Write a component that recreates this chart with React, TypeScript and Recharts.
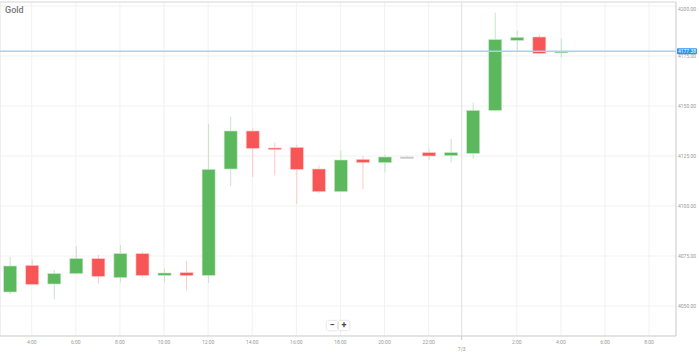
import React from 'react';
import { ComposedChart, Bar, XAxis, YAxis, CartesianGrid, ReferenceLine } from 'recharts';

// hourly candles, 3:00 (day 1) .. 4:00 (day 2 = 28)
const hours = [3, 4, 5, 6, 7, 8, 9, 10, 11, 12, 13, 14, 15, 16, 17, 18, 19, 20, 21, 22, 23, 24, 25, 26, 27, 28];
const opens = [4057, 4070.3, 4061, 4066.2, 4073.7, 4064.2, 4076.2, 4065.3, 4066.7, 4065.3, 4118.5, 4137.5, 4129, 4129.3, 4118.5, 4107.2, 4123.3, 4121.7, 4124.5, 4126.7, 4125.2, 4126.3, 4147.8, 4182.8, 4184.5, 4176.6];
const highs = [4074.6, 4073.3, 4068, 4080, 4075.7, 4080.5, 4077.2, 4068.8, 4072.5, 4141, 4144.7, 4138.8, 4131.8, 4130.7, 4120.2, 4127.7, 4125, 4125.8, 4125, 4128.7, 4133.5, 4151.7, 4196.7, 4187.7, 4185.7, 4183.7];
const lows = [4056, 4060.5, 4053.3, 4066, 4061.2, 4061.7, 4064.2, 4061.8, 4057.7, 4061.5, 4110, 4114.5, 4115.3, 4101, 4106.3, 4107, 4108.5, 4116.8, 4124, 4123, 4121.7, 4123.7, 4147.5, 4177.2, 4176, 4174.2];
const closes = [4070, 4060.8, 4066.2, 4073.7, 4064.8, 4076.2, 4065.3, 4066.5, 4065.2, 4118.3, 4137.5, 4128.8, 4128.8, 4118.3, 4107.2, 4123, 4121.7, 4124.5, 4124.5, 4125, 4126.7, 4147.8, 4183.2, 4184.3, 4176.3, 4177.38];

const xTicks = [4, 6, 8, 10, 12, 14, 16, 18, 20, 22, 23.5, 26, 28, 30, 32];
const yTicks = [4050, 4075, 4100, 4125, 4150, 4175, 4200];
const lastPrice = 4177.38;
const dayLabel = '7/3';

const data = hours.map((t, i) => ({
  t,
  open: opens[i],
  high: highs[i],
  low: lows[i],
  close: closes[i],
  range: [lows[i], highs[i]],
}));

const GREEN = '#5cb85c';
const RED = '#f85656';
const FONT = 'Roboto, sans-serif';

const Candle = (props: any) => {
  const { x, y, width, height, payload } = props;
  const { open, close, high, low } = payload;
  const span = high - low || 1;
  const toY = (v: number) => y + ((high - v) / span) * height;
  const cx = x + width / 2;
  const up = close > open;
  const flat = close === open;
  const body = flat ? '#c4c4c4' : up ? GREEN : RED;
  const wick = flat ? '#d8d8d8' : up ? '#c6e6c6' : '#ffc8c8';
  const yTop = toY(Math.max(open, close));
  const yBot = toY(Math.min(open, close));
  const h = Math.max(yBot - yTop, 1.6);
  const bw = 13;
  return (
    <g>
      <line x1={cx} x2={cx} y1={y} y2={y + height} stroke={wick} strokeWidth={1} />
      <rect x={cx - bw / 2} y={yTop} width={bw} height={h} fill={body} stroke={wick} strokeWidth={0.6} />
    </g>
  );
};

const XTick = (props: any) => {
  const { x, y, payload } = props;
  const isDay = payload.value === 23.5;
  const label = isDay ? dayLabel : `${payload.value % 24}:00`;
  return (
    <g>
      {isDay && <line x1={x} x2={x} y1={y} y2={y + 4} stroke="#ccc" />}
      <text x={x} y={y + (isDay ? 15 : 8)} textAnchor="middle" fontSize={5} fill="#999" fontFamily={FONT}>
        {label}
      </text>
    </g>
  );
};

const YTick = (props: any) => {
  const { x, y, payload } = props;
  return (
    <text x={x} y={y + 1.8} textAnchor="start" fontSize={5} fill="#999" fontFamily={FONT}>
      {payload.value.toFixed(2)}
    </text>
  );
};

const PriceTag = (props: any) => {
  const vb = props.viewBox || {};
  const bx = vb.x + vb.width + 1;
  return (
    <g>
      <rect x={bx} y={vb.y - 3} width={20} height={6} rx={1} fill="#2b95ee" />
      <text x={bx + 10} y={vb.y + 1.8} textAnchor="middle" fontSize={5} fill="#fff" fontFamily={FONT}>
        {lastPrice.toFixed(2)}
      </text>
    </g>
  );
};

const zoomBtn: React.CSSProperties = {
  width: 10,
  height: 9,
  background: '#fff',
  boxShadow: '0 0 2px rgba(0,0,0,0.25)',
  fontSize: 9,
  lineHeight: '9px',
  textAlign: 'center',
  color: '#444',
  fontFamily: FONT,
  fontWeight: 'bold',
};

export default function App() {
  return (
    <div style={{ position: 'absolute', left: 0, top: 0, width: 699, height: 354, background: '#fff' }}>
      <ComposedChart width={699} height={354} data={data} margin={{ top: 2, right: 0, bottom: 0, left: 0 }}>
        <CartesianGrid stroke="#f1f1f1" strokeWidth={1} />
        <XAxis
          dataKey="t"
          type="number"
          domain={[2.56, 33.22]}
          allowDataOverflow
          ticks={xTicks}
          interval={0}
          height={18}
          tickSize={0}
          tickMargin={0}
          tickLine={false}
          axisLine={{ stroke: '#cfcfcf' }}
          tick={<XTick />}
        />
        <YAxis
          orientation="right"
          type="number"
          domain={[4035, 4202]}
          allowDataOverflow
          ticks={yTicks}
          width={23}
          tickSize={0}
          tickMargin={2}
          tickLine={false}
          axisLine={{ stroke: '#cfcfcf' }}
          tick={<YTick />}
        />
        <ReferenceLine y={4202} stroke="#dcdcdc" />
        <ReferenceLine x={2.56} stroke="#e6e6e6" />
        <ReferenceLine x={23.5} stroke="#e2e2e2" />
        <Bar dataKey="range" barSize={13} shape={<Candle />} isAnimationActive={false} />
        <ReferenceLine y={lastPrice} stroke="#a3d2f5" strokeWidth={1.5} label={<PriceTag />} />
      </ComposedChart>
      <div style={{ position: 'absolute', left: 5, top: 5, fontSize: 9, color: '#777', fontFamily: FONT, fontWeight: 500 }}>
        Gold
      </div>
      <div style={{ position: 'absolute', left: 327, top: 321, display: 'flex', gap: 2 }}>
        <div style={zoomBtn}>−</div>
        <div style={zoomBtn}>+</div>
      </div>
    </div>
  );
}
